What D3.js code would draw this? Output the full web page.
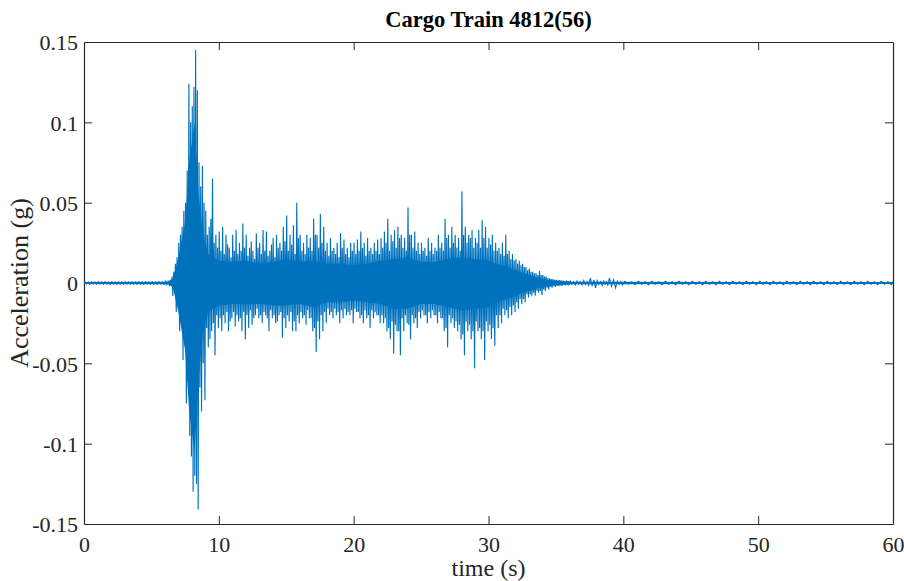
<!DOCTYPE html>
<html><head><meta charset="utf-8">
<script src="https://cdn.jsdelivr.net/npm/d3@7"></script>
<style>body{margin:0;background:#fff}svg{display:block}</style>
</head><body>
<script>
// ---- data ----
const title = "Cargo Train 4812(56)";
const xLabel = "time (s)";
const yLabel = "Acceleration (g)";
const xTicks = [0, 10, 20, 30, 40, 50, 60];
const yTicks = [-0.15, -0.1, -0.05, 0, 0.05, 0.1, 0.15];
const yTickLabels = ["-0.15", "-0.1", "-0.05", "0", "0.05", "0.1", "0.15"];

// bin start times (s)
const binT = [0,0.5,1,1.5,2,2.5,3,3.5,4,4.5,5,5.5,
  6,6.25,6.5,6.75,7,7.25,7.5,7.75,8,8.25,8.5,8.75,9,9.25,9.5,9.75,
  10,10.25,10.5,10.75,11,11.25,11.5,11.75,12,12.25,12.5,12.75,13,13.25,13.5,13.75,
  14,14.25,14.5,14.75,15,15.25,15.5,15.75,16,16.25,16.5,16.75,17,17.25,17.5,17.75,
  18,18.25,18.5,18.75,19,19.25,19.5,19.75,20,20.25,20.5,20.75,21,21.25,21.5,21.75,
  22,22.25,22.5,22.75,23,23.25,23.5,23.75,24,24.25,24.5,24.75,25,25.25,25.5,25.75,
  26,26.25,26.5,26.75,27,27.25,27.5,27.75,28,28.25,28.5,28.75,29,29.25,29.5,29.75,
  30,30.25,30.5,30.75,31,31.25,31.5,31.75,32,32.25,32.5,32.75,33,33.25,33.5,33.75,
  34,34.25,34.5,34.75,35,35.25,35.5,35.75,
  36,36.5,37,37.5,38,38.5,38.9,39.5,40,41,42,43,44,45,46,47,48,49,50,51,52,53,54,55,56,57,58,59,60];
// largest peak in each bin (g)
const binMax = [0.0008,0.0008,0.0008,0.0008,0.0008,0.0008,0.0008,0.0008,0.0008,0.0008,0.0008,0.0009,
  0.001,0.0015,0.004,0.012,0.025,0.035,0.05,0.124,0.11,0.145,0.075,0.073,0.045,0.035,0.065,0.03,
  0.032,0.035,0.03,0.022,0.03,0.033,0.025,0.037,0.03,0.022,0.02,0.031,0.025,0.033,0.032,0.02,
  0.028,0.03,0.025,0.035,0.042,0.03,0.036,0.05,0.03,0.025,0.03,0.028,0.04,0.03,0.043,0.035,
  0.025,0.028,0.022,0.025,0.031,0.027,0.022,0.025,0.025,0.027,0.032,0.025,0.028,0.022,0.025,0.027,
  0.028,0.032,0.04,0.03,0.033,0.035,0.03,0.028,0.047,0.03,0.032,0.025,0.025,0.022,0.028,0.025,
  0.022,0.03,0.025,0.04,0.03,0.035,0.03,0.028,0.057,0.035,0.03,0.033,0.028,0.033,0.039,0.035,
  0.028,0.03,0.025,0.022,0.025,0.03,0.02,0.018,0.015,0.014,0.012,0.01,0.009,0.007,0.006,0.0075,
  0.005,0.004,0.003,0.0025,0.002,0.0018,0.0015,0.0015,
  0.0012,0.0012,0.0015,0.003,0.0015,0.0012,0.003,0.0012,0.001,0.001,0.001,0.001,0.001,0.001,0.001,0.001,0.001,0.001,0.001,0.001,0.001,0.001,0.001,0.001,0.001,0.001,0.001,0.001,0.001];
// deepest trough in each bin (g)
const binMin = [-0.0008,-0.0008,-0.0008,-0.0008,-0.0008,-0.0008,-0.0008,-0.0008,-0.0008,-0.0008,-0.0008,-0.0009,
  -0.001,-0.0015,-0.004,-0.013,-0.025,-0.037,-0.06,-0.108,-0.12,-0.141,-0.08,-0.073,-0.04,-0.03,-0.045,-0.028,
  -0.03,-0.025,-0.03,-0.022,-0.027,-0.024,-0.03,-0.035,-0.028,-0.026,-0.02,-0.022,-0.025,-0.02,-0.03,-0.022,
  -0.025,-0.02,-0.034,-0.028,-0.024,-0.03,-0.03,-0.025,-0.022,-0.026,-0.022,-0.03,-0.043,-0.035,-0.03,-0.025,
  -0.02,-0.022,-0.02,-0.025,-0.022,-0.02,-0.02,-0.025,-0.018,-0.022,-0.025,-0.022,-0.028,-0.022,-0.02,-0.025,
  -0.025,-0.03,-0.035,-0.044,-0.03,-0.045,-0.03,-0.025,-0.035,-0.025,-0.028,-0.022,-0.02,-0.025,-0.022,-0.02,
  -0.025,-0.022,-0.03,-0.04,-0.025,-0.028,-0.03,-0.035,-0.045,-0.03,-0.035,-0.053,-0.03,-0.035,-0.048,-0.03,
  -0.035,-0.039,-0.028,-0.025,-0.02,-0.022,-0.02,-0.018,-0.016,-0.013,-0.012,-0.009,-0.008,-0.008,-0.006,-0.0075,
  -0.005,-0.004,-0.003,-0.0025,-0.002,-0.0018,-0.0015,-0.0015,
  -0.0012,-0.0012,-0.0015,-0.003,-0.0015,-0.0012,-0.003,-0.0012,-0.001,-0.001,-0.001,-0.001,-0.001,-0.001,-0.001,-0.001,-0.001,-0.001,-0.001,-0.001,-0.001,-0.001,-0.001,-0.001,-0.001,-0.001,-0.001,-0.001,-0.001];
// second (smaller) peak in each bin (g)
const binMax2 = [0.0006,0.0006,0.0006,0.0006,0.0006,0.0006,0.0006,0.0006,0.0006,0.0006,0.0006,0.0006,
  0.0008,0.002,0.007,0.016,0.03,0.045,0.07,0.1,0.122,0.12,0.06,0.05,0.03,0.04,0.025,0.022,
  0.02,0.018,0.024,0.016,0.02,0.018,0.02,0.022,0.017,0.026,0.015,0.022,0.018,0.02,0.017,0.024,
  0.016,0.022,0.02,0.026,0.02,0.024,0.018,0.028,0.02,0.018,0.022,0.02,0.03,0.022,0.025,0.02,
  0.017,0.02,0.018,0.016,0.022,0.018,0.016,0.02,0.018,0.02,0.022,0.017,0.02,0.018,0.02,0.018,
  0.022,0.025,0.02,0.026,0.022,0.028,0.022,0.02,0.03,0.022,0.02,0.018,0.02,0.017,0.02,0.018,
  0.02,0.022,0.02,0.028,0.022,0.025,0.022,0.02,0.03,0.025,0.028,0.022,0.025,0.022,0.028,0.022,
  0.024,0.02,0.02,0.018,0.017,0.018,0.015,0.014,0.012,0.011,0.01,0.008,0.007,0.006,0.005,0.005,
  0.004,0.003,0.0025,0.002,0.0018,0.0015,0.0012,0.0012,
  0.0008,0.0008,0.0009,0.002,0.0009,0.0008,0.002,0.0008,0.0008,0.0008,0.0008,0.0008,0.0008,0.0008,0.0008,0.0008,0.0008,0.0008,0.0008,0.0008,0.0008,0.0008,0.0008,0.0008,0.0008,0.0008,0.0008,0.0008,0.0008];
// second (smaller) trough in each bin (g)
const binMin2 = [-0.0006,-0.0006,-0.0006,-0.0006,-0.0006,-0.0006,-0.0006,-0.0006,-0.0006,-0.0006,-0.0006,-0.0006,
  -0.0008,-0.002,-0.008,-0.018,-0.03,-0.048,-0.075,-0.095,-0.13,-0.125,-0.065,-0.05,-0.028,-0.035,-0.025,-0.02,
  -0.022,-0.02,-0.018,-0.024,-0.018,-0.02,-0.022,-0.018,-0.02,-0.017,-0.022,-0.016,-0.02,-0.018,-0.022,-0.017,
  -0.02,-0.024,-0.018,-0.022,-0.02,-0.018,-0.024,-0.02,-0.018,-0.02,-0.017,-0.022,-0.028,-0.024,-0.02,-0.018,
  -0.016,-0.018,-0.016,-0.018,-0.017,-0.016,-0.018,-0.017,-0.016,-0.018,-0.02,-0.017,-0.02,-0.017,-0.018,-0.02,
  -0.02,-0.022,-0.028,-0.024,-0.026,-0.03,-0.022,-0.02,-0.026,-0.02,-0.022,-0.018,-0.017,-0.02,-0.018,-0.017,
  -0.02,-0.018,-0.022,-0.028,-0.02,-0.022,-0.024,-0.026,-0.032,-0.024,-0.026,-0.03,-0.024,-0.028,-0.03,-0.024,
  -0.026,-0.028,-0.02,-0.02,-0.016,-0.017,-0.015,-0.014,-0.012,-0.01,-0.01,-0.007,-0.007,-0.006,-0.005,-0.005,
  -0.004,-0.003,-0.0025,-0.002,-0.0018,-0.0015,-0.0012,-0.0012,
  -0.0008,-0.0008,-0.0009,-0.002,-0.0009,-0.0008,-0.002,-0.0008,-0.0008,-0.0008,-0.0008,-0.0008,-0.0008,-0.0008,-0.0008,-0.0008,-0.0008,-0.0008,-0.0008,-0.0008,-0.0008,-0.0008,-0.0008,-0.0008,-0.0008,-0.0008,-0.0008,-0.0008,-0.0008];

// dense core band of the signal (g)
const coreT  = [0, 6.3, 6.6, 7.0, 7.5, 7.8, 8.2, 8.5, 8.8, 9.2, 10, 11, 12, 13, 14, 15, 16, 17, 18, 19, 20, 21, 22, 23, 24, 25, 26, 27, 28, 29, 30, 30.5, 31, 32, 33, 34, 35, 36, 60];
const coreHi = [0.0006, 0.0008, 0.003, 0.016, 0.038, 0.075, 0.1, 0.055, 0.032, 0.018, 0.014, 0.013, 0.014, 0.012, 0.013, 0.015, 0.013, 0.014, 0.012, 0.012, 0.011, 0.012, 0.014, 0.015, 0.016, 0.013, 0.013, 0.015, 0.016, 0.015, 0.014, 0.012, 0.011, 0.008, 0.005, 0.0025, 0.0012, 0.0008, 0.0006];
const coreLo = [-0.0006, -0.0008, -0.003, -0.018, -0.042, -0.08, -0.105, -0.06, -0.032, -0.018, -0.014, -0.013, -0.013, -0.013, -0.014, -0.014, -0.013, -0.015, -0.012, -0.012, -0.011, -0.012, -0.013, -0.016, -0.016, -0.013, -0.013, -0.015, -0.017, -0.016, -0.015, -0.012, -0.011, -0.008, -0.005, -0.0025, -0.0012, -0.0008, -0.0006];

// ---- layout ----
const W = 904, H = 581;
const m = {left: 84, right: 11, top: 42, bottom: 57};
const iw = W - m.left - m.right, ih = H - m.top - m.bottom;
const axisColor = "#262626", lineColor = "#0072BD";
const serif = "'Liberation Serif','Times New Roman',serif";

const svg = d3.select("body").append("svg").attr("width", W).attr("height", H);
const g = svg.append("g").attr("transform", `translate(${m.left},${m.top})`);

const x = d3.scaleLinear().domain([0, 60]).range([0, iw]);
const y = d3.scaleLinear().domain([-0.15, 0.15]).range([ih, 0]);

svg.append("clipPath").attr("id", "c").append("rect")
  .attr("x", m.left).attr("y", m.top).attr("width", iw).attr("height", ih);

const plot = svg.append("g").attr("clip-path", "url(#c)")
  .append("g").attr("transform", `translate(${m.left},${m.top})`);

// core band
const core = coreT.map((t, i) => ({t, hi: coreHi[i], lo: coreLo[i]}));
plot.append("path").datum(core)
  .attr("fill", lineColor)
  .attr("d", d3.area().x(d => x(d.t)).y0(d => y(d.lo)).y1(d => y(d.hi)));

// waveform through each bin's peaks and troughs
const pts = [];
binT.forEach((t, i) => {
  const t2 = i < binT.length - 1 ? binT[i + 1] : t + 0.25;
  const w = t2 - t;
  pts.push([t + w * 0.12, binMax[i]]);
  pts.push([t + w * 0.37, binMin2[i]]);
  pts.push([t + w * 0.62, binMax2[i]]);
  pts.push([t + w * 0.87, binMin[i]]);
});
plot.append("path").datum(pts)
  .attr("fill", "none").attr("stroke", lineColor).attr("stroke-width", 1.15)
  .attr("stroke-linejoin", "miter")
  .attr("d", d3.line().x(d => x(d[0])).y(d => y(d[1])));

// ---- axes (MATLAB style box with inward ticks) ----
const tickLen = 8;
const fmtY = d => yTickLabels[yTicks.indexOf(d)];
const ax = {
  bottom: d3.axisBottom(x).tickValues(xTicks).tickSizeInner(-tickLen).tickSizeOuter(0),
  top: d3.axisTop(x).tickValues(xTicks).tickSizeInner(-tickLen).tickSizeOuter(0).tickFormat(""),
  left: d3.axisLeft(y).tickValues(yTicks).tickSizeInner(-tickLen).tickSizeOuter(0).tickFormat(fmtY),
  right: d3.axisRight(y).tickValues(yTicks).tickSizeInner(-tickLen).tickSizeOuter(0).tickFormat("")
};
const gB = g.append("g").attr("transform", `translate(0,${ih})`).call(ax.bottom);
const gT = g.append("g").call(ax.top);
const gL = g.append("g").call(ax.left);
const gR = g.append("g").attr("transform", `translate(${iw},0)`).call(ax.right);
[gB, gT, gL, gR].forEach(a => {
  a.selectAll("path.domain").attr("stroke", axisColor).attr("stroke-width", 1.2);
  a.selectAll(".tick line").attr("stroke", axisColor).attr("stroke-width", 1);
  a.selectAll(".tick text").attr("fill", axisColor)
    .style("font-family", serif).style("font-size", "22px");
});
[gB, gT].forEach(a => a.selectAll(".tick line").filter(d => d === 0 || d === 60).remove());
[gL, gR].forEach(a => a.selectAll(".tick line").filter(d => d === -0.15 || d === 0.15).remove());
gB.selectAll(".tick text").attr("y", 12).attr("dy", "0.71em");
gL.selectAll(".tick text").attr("x", -6).attr("dy", "0.35em");

// title and labels
svg.append("text").attr("x", m.left + iw / 2).attr("y", 27)
  .attr("text-anchor", "middle").style("font-family", serif)
  .style("font-size", "22.5px").style("font-weight", "bold").attr("fill", "#000")
  .text(title);
svg.append("text").attr("x", m.left + iw / 2).attr("y", 576)
  .attr("text-anchor", "middle").style("font-family", serif)
  .style("font-size", "24px").attr("fill", axisColor).text(xLabel);
svg.append("text").attr("transform", `translate(28,${m.top + ih / 2}) rotate(-90)`)
  .attr("text-anchor", "middle").style("font-family", serif)
  .style("font-size", "26px").attr("fill", axisColor).text(yLabel);
</script>
</body></html>
